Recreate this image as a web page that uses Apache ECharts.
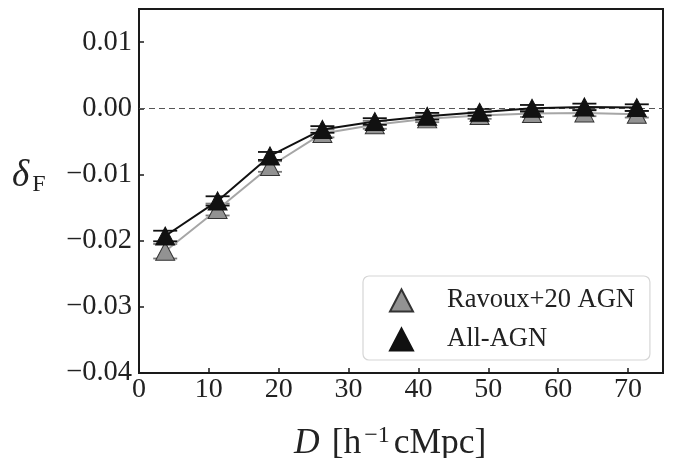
<!DOCTYPE html>
<html><head><meta charset="utf-8">
<script src="https://cdn.jsdelivr.net/npm/echarts@6/dist/echarts.min.js"></script>
<style>html,body{margin:0;padding:0;background:#fff}#c{width:673px;height:458px}</style>
</head><body><div id="c"></div>
<script>
// ---- data ----
const distances = [3.75, 11.25, 18.75, 26.25, 33.75, 41.25, 48.75, 56.25, 63.75, 71.25];
const ravouxValues = [-0.0216, -0.0153, -0.0088, -0.0038, -0.0025, -0.0016, -0.0011, -0.0008, -0.0007, -0.0009];
const ravouxErrors = [0.0011, 0.0009, 0.0008, 0.0006, 0.0006, 0.0005, 0.0005, 0.0005, 0.0005, 0.0005];
const allAgnValues = [-0.0193, -0.0140, -0.0072, -0.0032, -0.0020, -0.0012, -0.0006, 0.0000, 0.0002, 0.0001];
const allAgnErrors = [0.0008, 0.0007, 0.0006, 0.0005, 0.0005, 0.0005, 0.0005, 0.0005, 0.0005, 0.0005];
const seriesNames = ['Ravoux+20 AGN', 'All-AGN'];

const SERIF = '"Liberation Serif","DejaVu Serif",serif';
const chart = echarts.init(document.getElementById('c'), null, {renderer: 'canvas'});

function pairs(vals) { return distances.map((d, i) => [d, vals[i]]); }
function errData(vals, errs) { return distances.map((d, i) => [d, vals[i] - errs[i], vals[i] + errs[i]]); }
function errSeries(vals, errs, color, z) {
  return {
    type: 'custom', z: z, silent: true,
    data: errData(vals, errs),
    encode: {x: 0, y: [1, 2]},
    renderItem: function (params, api) {
      const lo = api.coord([api.value(0), api.value(1)]);
      const hi = api.coord([api.value(0), api.value(2)]);
      const hw = 12;
      const st = {stroke: color, lineWidth: 1.8};
      return {type: 'group', children: [
        {type: 'line', shape: {x1: lo[0], y1: lo[1], x2: hi[0], y2: hi[1]}, style: st},
        {type: 'line', shape: {x1: lo[0] - hw, y1: lo[1], x2: lo[0] + hw, y2: lo[1]}, style: st},
        {type: 'line', shape: {x1: hi[0] - hw, y1: hi[1], x2: hi[0] + hw, y2: hi[1]}, style: st}
      ]};
    }
  };
}

const option = {
  animation: false,
  backgroundColor: '#fff',
  grid: {left: 139, right: 10, top: 9, bottom: 85, show: true, borderColor: '#1a1a1a', borderWidth: 2, backgroundColor: 'transparent'},
  xAxis: {
    type: 'value', min: 0, max: 75, interval: 10,
    axisLine: {show: true, onZero: false, lineStyle: {color: '#1a1a1a', width: 2}},
    axisTick: {show: true, inside: true, length: 5, lineStyle: {color: '#1a1a1a', width: 1.5}},
    axisLabel: {showMaxLabel: false, fontFamily: SERIF, fontSize: 28, color: '#222', margin: 3},
    splitLine: {show: false}
  },
  yAxis: {
    type: 'value', min: -0.04, max: 0.015, interval: 0.01,
    axisLine: {show: true, onZero: false, lineStyle: {color: '#1a1a1a', width: 2}},
    axisTick: {show: true, inside: true, length: 5, lineStyle: {color: '#1a1a1a', width: 1.5}},
    axisLabel: {showMaxLabel: false, fontFamily: SERIF, fontSize: 28.5, color: '#222', margin: 7,
      formatter: v => (Math.abs(v) < 1e-9 ? '0.00' : v.toFixed(2)).replace('-', '\u2212')},
    splitLine: {show: false}
  },
  legend: {
    orient: 'vertical', left: 363, top: 276,
    data: seriesNames,
    icon: 'triangle',
    backgroundColor: '#fff', borderColor: '#d6d6d6', borderWidth: 1.2, borderRadius: 6,
    padding: [11, 15, 7, 26],
    itemWidth: 23, itemHeight: 22, itemGap: 12,
    textStyle: {fontFamily: SERIF, fontSize: 26.5, color: '#222', lineHeight: 22, padding: [0, 0, 0, 29]}
  },
  graphic: [
    {type: 'text', left: 12, top: 158, style: {
      text: '{d|\u03b4}{s|F}',
      rich: {d: {fontFamily: SERIF, fontStyle: 'italic', fontSize: 37, fill: '#222'},
             s: {fontFamily: SERIF, fontSize: 24, fill: '#222', padding: [17, 0, 0, 3]}}
    }},
    {type: 'text', left: 294, top: 424, style: {
      text: '{i|D}{n|[h}{u|\u22121}{n|cMpc]}',
      rich: {i: {fontFamily: SERIF, fontStyle: 'italic', fontSize: 35.5, fill: '#222', padding: [0, 12, 0, 0]},
             n: {fontFamily: SERIF, fontSize: 35.5, fill: '#222'},
             u: {fontFamily: SERIF, fontSize: 24, fill: '#222', padding: [0, 4, 16, 3]}}
    }}
  ],
  series: [
    errSeries(ravouxValues, ravouxErrors, '#7a7a7a', 2),
    {
      name: seriesNames[0], type: 'line', z: 3, data: pairs(ravouxValues),
      symbol: 'triangle', symbolSize: [19, 18], showSymbol: true,
      lineStyle: {color: '#a6a6a6', width: 2},
      itemStyle: {color: '#929292', borderColor: '#333', borderWidth: 1},
      markLine: {silent: true, symbol: 'none', label: {show: false},
        lineStyle: {color: '#555', type: [6, 4], width: 1},
        data: [{yAxis: 0}]}
    },
    errSeries(allAgnValues, allAgnErrors, '#111', 4),
    {
      name: seriesNames[1], type: 'line', z: 5, data: pairs(allAgnValues),
      symbol: 'triangle', symbolSize: [19, 18], showSymbol: true,
      lineStyle: {color: '#111', width: 2},
      itemStyle: {color: '#111', borderColor: '#111', borderWidth: 1}
    }
  ]
};
chart.setOption(option);
</script></body></html>
